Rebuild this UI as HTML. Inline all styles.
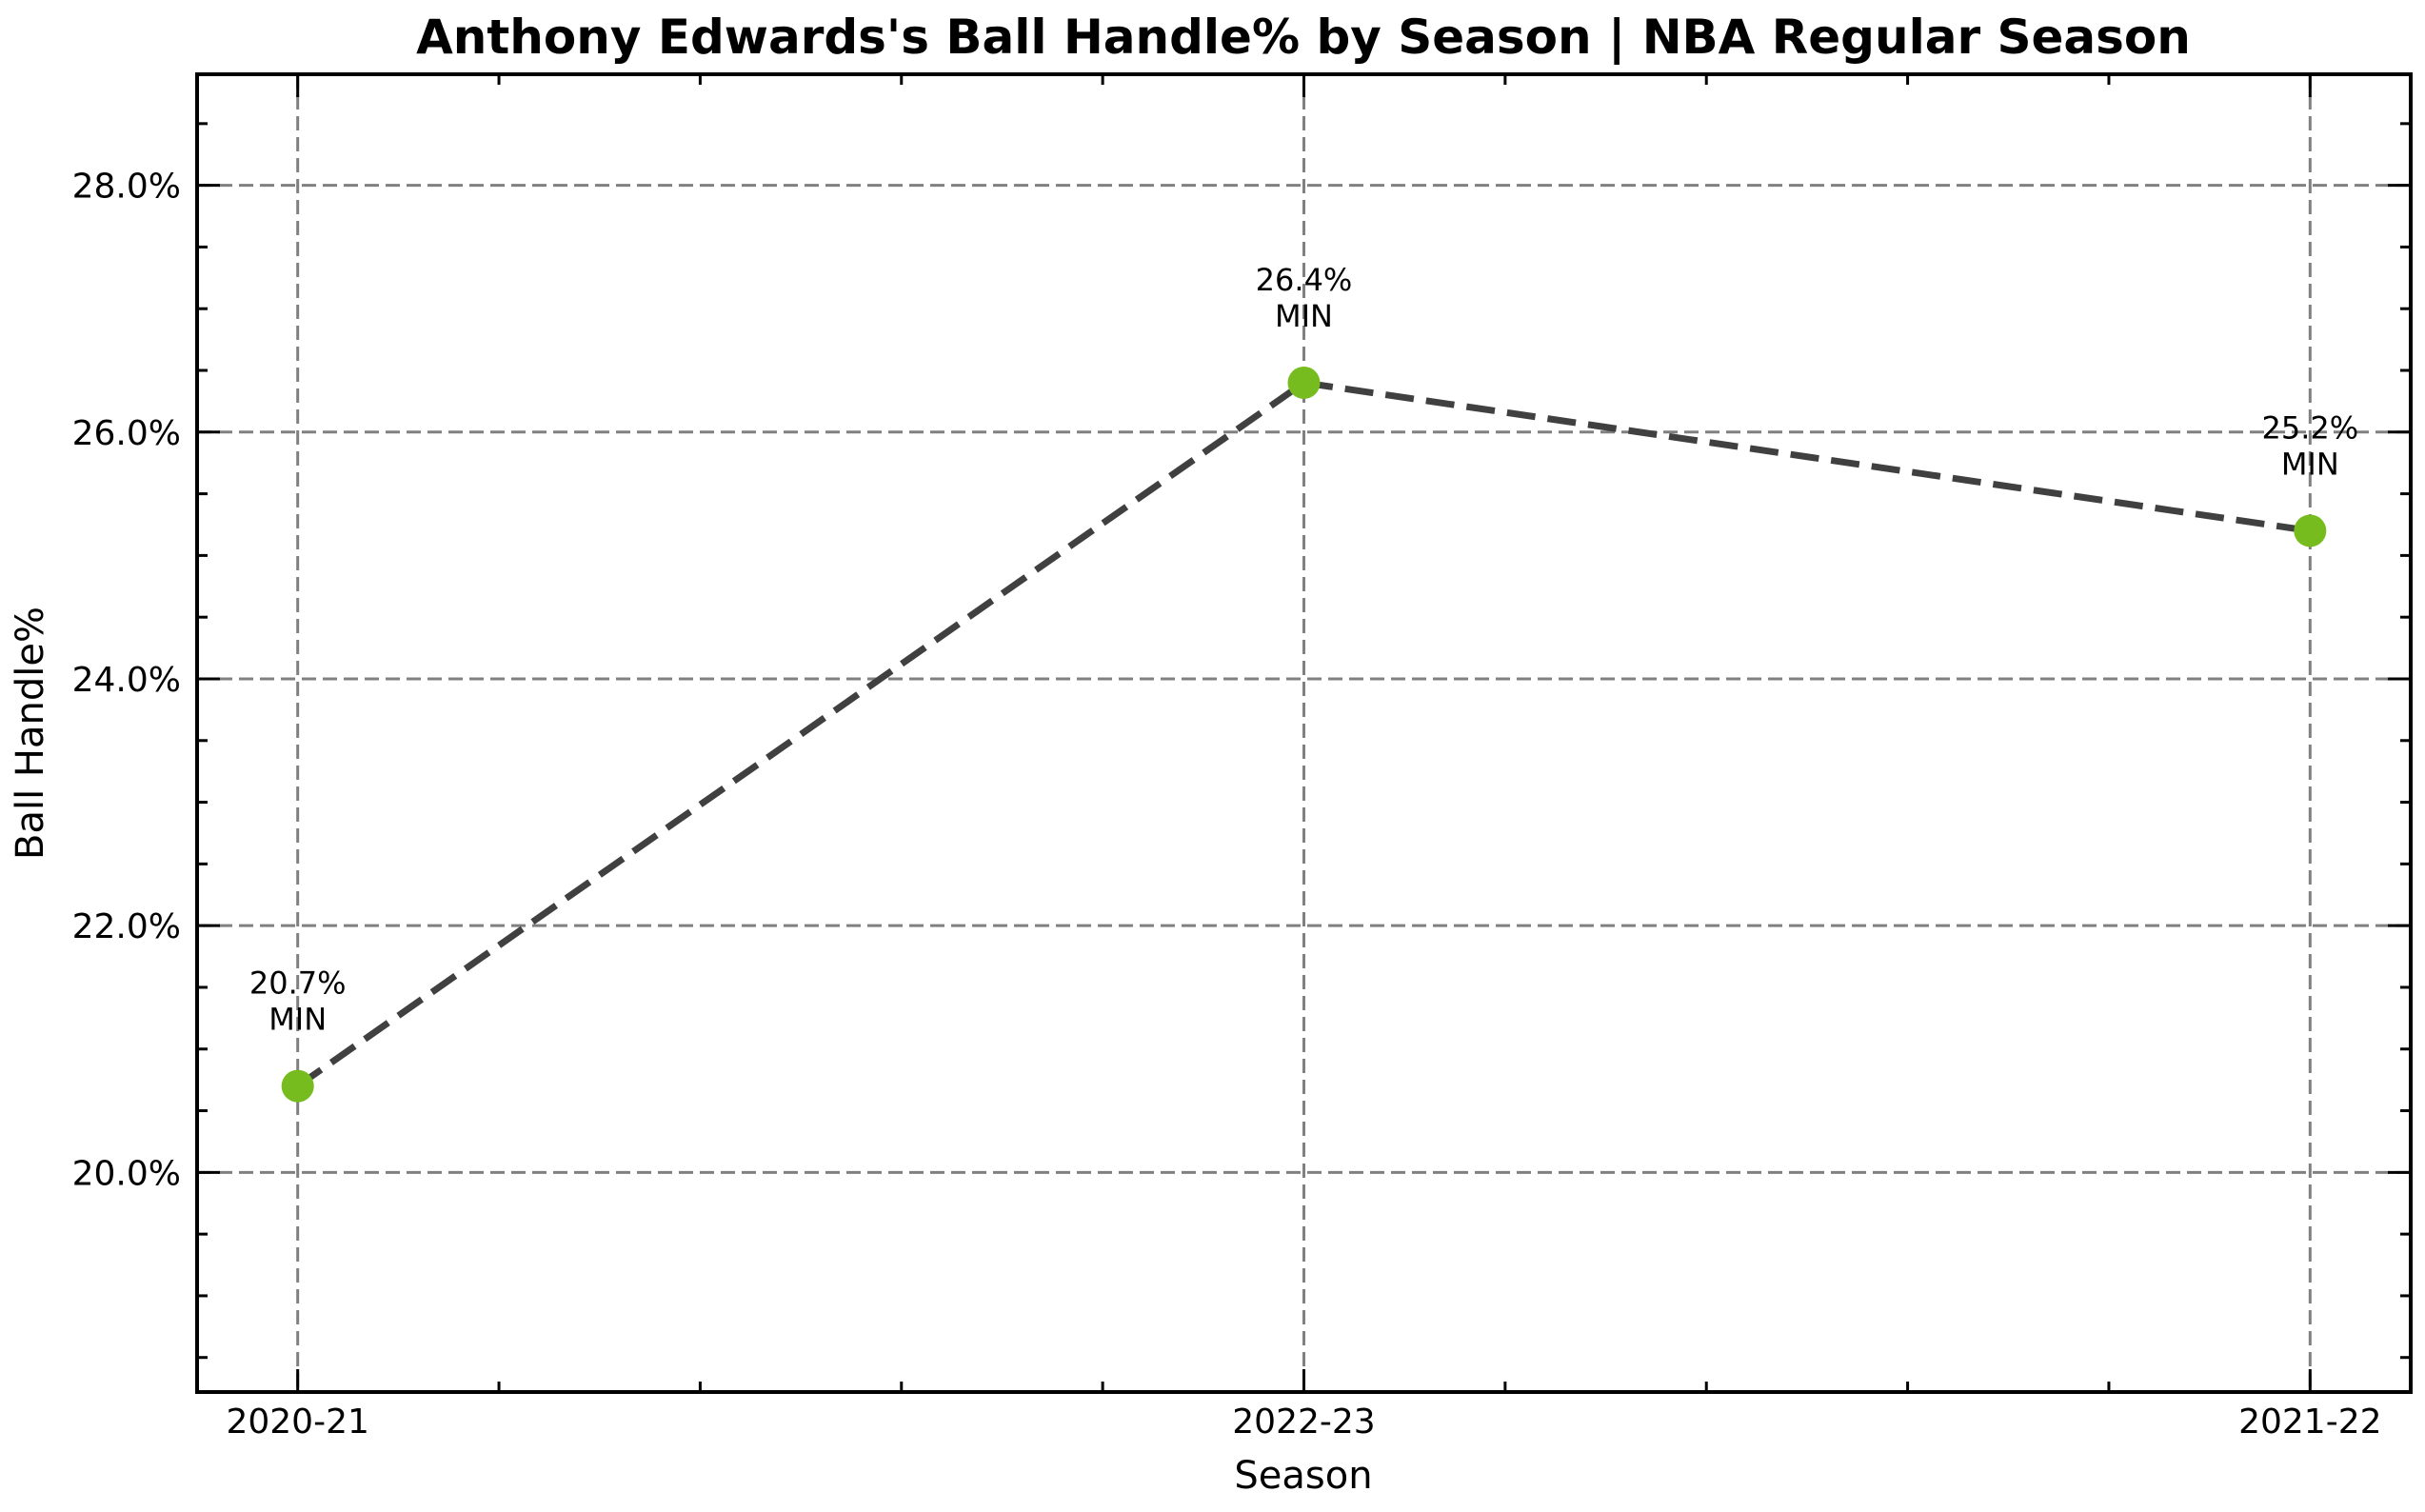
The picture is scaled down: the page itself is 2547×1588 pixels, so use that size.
<!DOCTYPE html>
<html><head><meta charset="utf-8"><style>
html,body{margin:0;padding:0;background:#fff}
svg{display:block;font-family:"DejaVu Sans","Liberation Sans",sans-serif}
</style></head><body>
<svg id="chart" width="2547" height="1588" viewBox="0 0 2547 1588" xmlns="http://www.w3.org/2000/svg">
<rect width="2547" height="1588" fill="#fff"/>
<text x="1369" y="56" text-anchor="middle" font-size="50" font-weight="bold">Anthony Edwards's Ball Handle% by Season | NBA Regular Season</text>
<g id="grid"></g><g id="ticks"></g><g id="series"></g>
<rect x="207" y="78" width="2325" height="1384" fill="none" stroke="#000" stroke-width="4"/>
<text x="1369" y="1563" text-anchor="middle" font-size="40">Season</text>
<text transform="translate(45,770) rotate(-90)" text-anchor="middle" font-size="40">Ball Handle%</text>
</svg>
<script>
const seasons = ["2020-21","2022-23","2021-22"];
const values = [20.7, 26.4, 25.2];
const annotations = ["MIN","MIN","MIN"];
const yTicks = [20,22,24,26,28];
const NS="http://www.w3.org/2000/svg";
const L=207,R=2532,T=78,B=1462, xmin=-0.1,xmax=2.1,ymin=18.22,ymax=28.9;
const xs=v=>L+(v-xmin)/(xmax-xmin)*(R-L);
const ys=v=>B-(v-ymin)/(ymax-ymin)*(B-T);
function mk(tag,attrs,parent,text){const e=document.createElementNS(NS,tag);for(const k in attrs)e.setAttribute(k,attrs[k]);if(text!==undefined)e.textContent=text;document.getElementById(parent).appendChild(e);return e;}
const gs={stroke:"#808080","stroke-width":3,"stroke-dasharray":"15 7",fill:"none"};
yTicks.forEach(t=>{const y=ys(t);
 let g=mk("line",Object.assign({x1:L,x2:R,y1:y,y2:y},gs),"grid");
 
 
 let lab=mk("text",{x:190,y:y+13,"text-anchor":"end","font-size":36},"ticks",t.toFixed(1)+"%");
 
 
 [[L,L+24],[R,R-24]].forEach(p=>{let m=mk("line",{x1:p[0],x2:p[1],y1:y,y2:y,stroke:"#000","stroke-width":3},"ticks");
 
 });
});
for(let v=Math.ceil(ymin*2)/2; v<=ymax; v+=0.5){ if(Math.abs(v-Math.round(v/2)*2)<1e-6) continue; const y=ys(v);
 [[L,L+11],[R,R-11]].forEach(p=>{let m=mk("line",{x1:p[0],x2:p[1],y1:y,y2:y,stroke:"#000","stroke-width":3},"ticks");
 
 });}
for(let v=0; v<=2.0001; v+=0.2){ if(Math.abs(v-Math.round(v))<1e-6) continue; const x=xs(v);
 [[B,B-11],[T,T+11]].forEach(p=>{let m=mk("line",{x1:x,x2:x,y1:p[0],y2:p[1],stroke:"#000","stroke-width":3},"ticks");
 
 });}
seasons.forEach((s,i)=>{const x=xs(i);
 let g=mk("line",Object.assign({x1:x,x2:x,y1:T,y2:B},gs),"grid");
 
 
 [[B,B-24],[T,T+24]].forEach(p=>{let m=mk("line",{x1:x,x2:x,y1:p[0],y2:p[1],stroke:"#000","stroke-width":3},"ticks");
 
 });
 let lab=mk("text",{x:x,y:1505,"text-anchor":"middle","font-size":36},"ticks",s);
 
 
});
const pts=values.map((v,i)=>xs(i)+","+ys(v)).join(" ");
let line=mk("polyline",{points:pts,fill:"none",stroke:"#404040","stroke-width":7,"stroke-dasharray":"30 13"},"series");


values.forEach((v,i)=>{const x=xs(i),y=ys(v);
 let c=mk("circle",{cx:x,cy:y,r:17,fill:"#77bc1f"},"series");
 
 
 let a=mk("text",{x:x,y:y-97,"text-anchor":"middle","font-size":32},"series",v.toFixed(1)+"%");
 
 
 let b=mk("text",{x:x,y:y-59,"text-anchor":"middle","font-size":32},"series",annotations[i]);
 
 
});
</script>
</body></html>
